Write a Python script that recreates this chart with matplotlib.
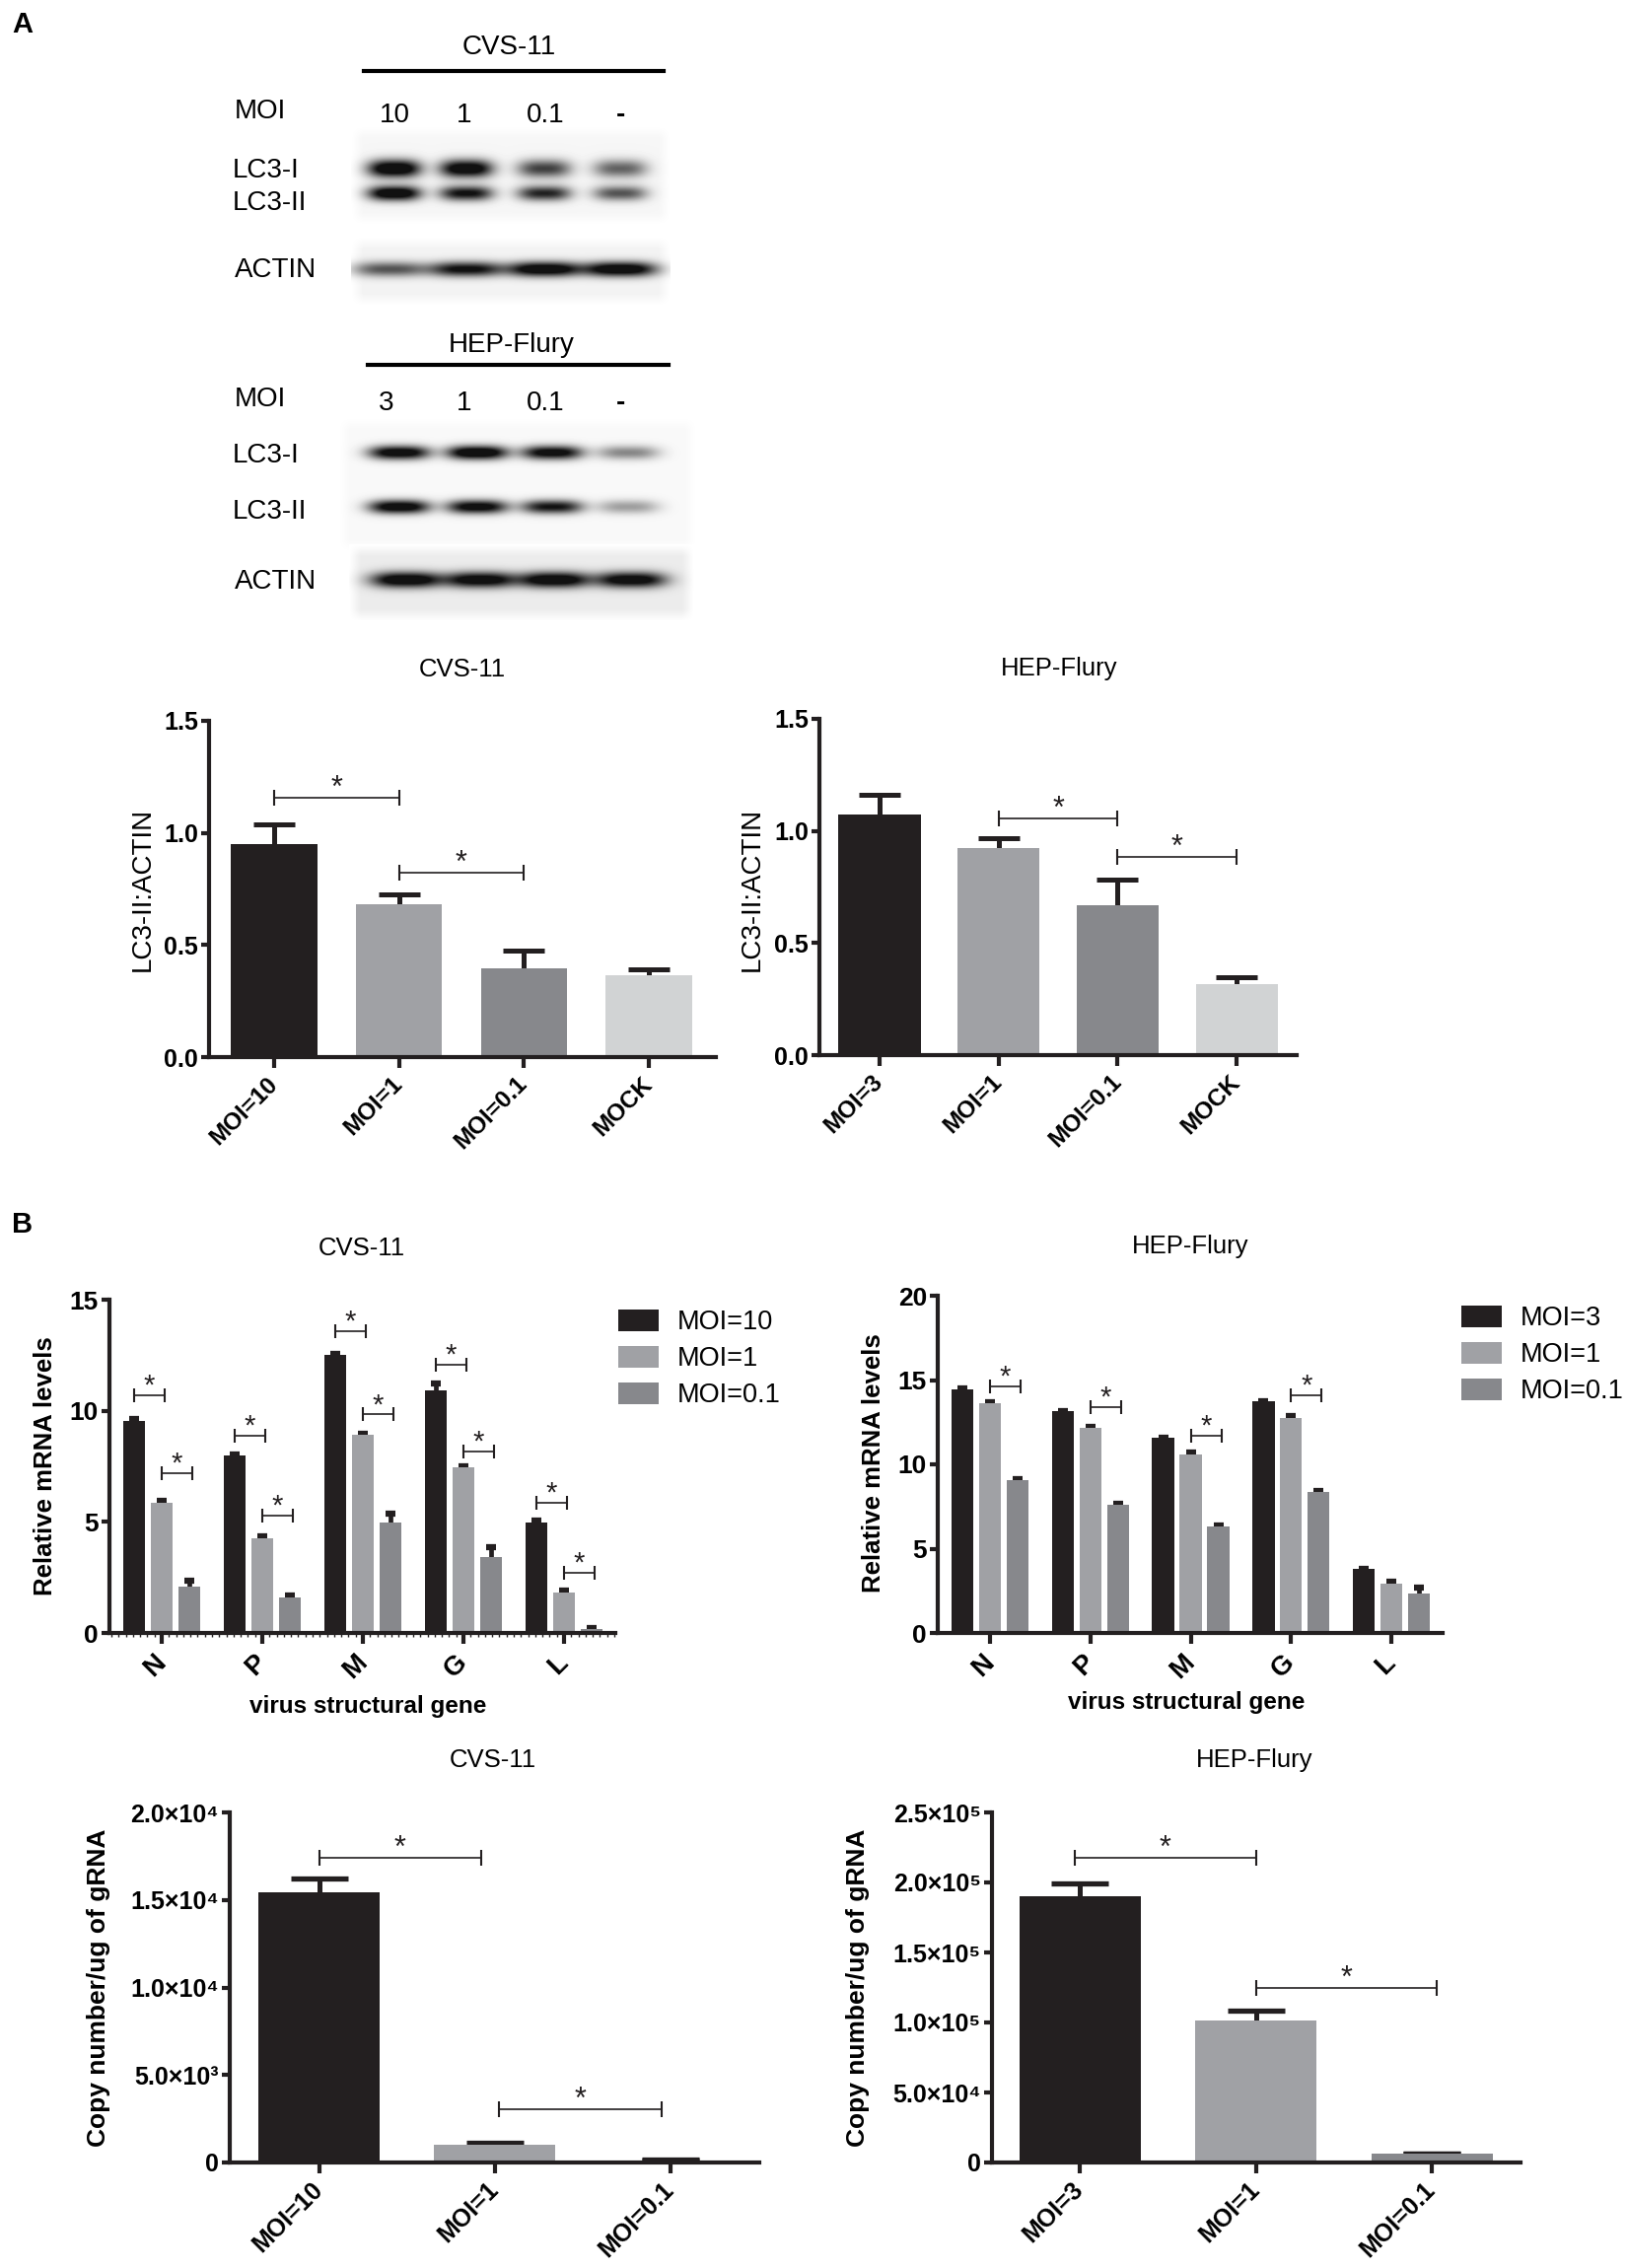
import numpy as np
import matplotlib.pyplot as plt
from matplotlib.ticker import FixedLocator, MultipleLocator, FuncFormatter
from matplotlib.transforms import ScaledTranslation

plt.rcParams['font.family'] = ['Liberation Sans', 'DejaVu Sans']

W, H = 1650, 2300
DARK = '#231f20'
LIGHT = '#a0a1a5'
MID = '#87888c'
PALE = '#d1d3d4'

# ---------------- data ----------------
cvs_lanes = ['10', '1', '0.1', '-']
hep_lanes = ['3', '1', '0.1', '-']
# band darkness per lane (0..1), read by eye from the blots
cvs_lc3i = [1.0, 0.95, 0.62, 0.5]
cvs_lc3ii = [0.98, 0.8, 0.72, 0.55]
cvs_actin = [0.55, 0.82, 0.97, 0.97]
hep_lc3i = [0.92, 1.0, 0.88, 0.38]
hep_lc3ii = [0.92, 0.88, 0.78, 0.3]
hep_actin = [0.97, 0.93, 0.97, 0.92]

a_cvs_groups = ['MOI=10', 'MOI=1', 'MOI=0.1', 'MOCK']
a_cvs_mean = [0.952, 0.683, 0.398, 0.365]
a_cvs_err = [0.084, 0.045, 0.078, 0.027]
a_hep_groups = ['MOI=3', 'MOI=1', 'MOI=0.1', 'MOCK']
a_hep_mean = [1.074, 0.924, 0.669, 0.318]
a_hep_err = [0.086, 0.042, 0.114, 0.030]

genes = ['N', 'P', 'M', 'G', 'L']
b_cvs_series = ['MOI=10', 'MOI=1', 'MOI=0.1']
b_cvs_moi10 = [9.56, 7.98, 12.53, 10.90, 4.98]
b_cvs_moi10_err = [0.05, 0.04, 0.05, 0.35, 0.06]
b_cvs_moi1 = [5.85, 4.28, 8.91, 7.44, 1.82]
b_cvs_moi1_err = [0.08, 0.06, 0.06, 0.06, 0.11]
b_cvs_moi01 = [2.07, 1.58, 4.96, 3.40, 0.16]
b_cvs_moi01_err = [0.28, 0.11, 0.41, 0.46, 0.06]
b_cvs_sig_a = [10.70, 8.88, 13.59, 12.09, 5.88]   # MOI=10 vs MOI=1
b_cvs_sig_b = [7.19, 5.29, 9.83, 8.17, 2.69]      # MOI=1 vs MOI=0.1

b_hep_series = ['MOI=3', 'MOI=1', 'MOI=0.1']
b_hep_moi3 = [14.45, 13.13, 11.55, 13.72, 3.78]
b_hep_moi3_err = [0.04, 0.04, 0.05, 0.05, 0.05]
b_hep_moi1 = [13.61, 12.14, 10.59, 12.77, 2.94]
b_hep_moi1_err = [0.10, 0.08, 0.10, 0.08, 0.08]
b_hep_moi01 = [9.07, 7.60, 6.30, 8.36, 2.35]
b_hep_moi01_err = [0.08, 0.08, 0.08, 0.08, 0.32]
b_hep_sig = [14.60, 13.40, 11.72, 14.07]          # MOI=1 vs MOI=0.1, N..G

c_cvs_groups = ['MOI=10', 'MOI=1', 'MOI=0.1']
c_cvs_mean = [15450, 1000, 140]
c_cvs_err = [790, 150, 40]
c_hep_groups = ['MOI=3', 'MOI=1', 'MOI=0.1']
c_hep_mean = [190400, 101500, 6060]
c_hep_err = [8800, 7100, 0]

fig = plt.figure(figsize=(W / 100, H / 100), dpi=100)

# overlay in pixel units for blots and free text
ov = fig.add_axes([0, 0, 1, 1])
ov.set_xlim(0, W)
ov.set_ylim(H, 0)
ov.axis('off')


def blot(x0, x1, y0, y1, lane_x, rows, band_w, bg):
    xs = np.arange(x0, x1) + 0.5
    ys = np.arange(y0, y1) + 0.5
    X, Y = np.meshgrid(xs, ys)
    dark = np.zeros_like(X)
    for yc, amps, sy in rows:
        for xc, a in zip(lane_x, amps):
            dark += a * np.exp(-np.abs((X - xc) / (band_w / 2)) ** 3) * np.exp(-((Y - yc) / sy) ** 2)
    # soft edge of the membrane
    ex = np.clip(np.minimum(X - x0, x1 - X) / 12, 0, 1)
    ey = np.clip(np.minimum(Y - y0, y1 - Y) / 12, 0, 1)
    base = 1 - (1 - bg) * ex * ey
    img = base - np.clip(dark * 1.3, 0, 1) * (base - 0.07)
    ov.imshow(img, cmap='gray', vmin=0, vmax=1, extent=(x0, x1, y1, y0),
              aspect='auto', interpolation='bilinear')


cvs_x = [400, 473, 552, 629]
hep_x = [405, 484, 560, 637]
blot(356, 680, 128, 228, cvs_x, [(171, cvs_lc3i, 9), (196, cvs_lc3ii, 7.5)], 54, 0.965)
blot(356, 680, 240, 310, [396, 473, 552, 629], [(273, cvs_actin, 7.5)], 74, 0.955)
blot(343, 707, 423, 560, hep_x, [(459, hep_lc3i, 7), (514, hep_lc3ii, 7)], 62, 0.975)
blot(354, 704, 552, 630, [412, 487, 562, 640], [(588, hep_actin, 8)], 72, 0.925)

blot_fs = 20
ov.text(516, 48, 'CVS-11', fontsize=blot_fs, ha='center', va='center')
ov.plot([369, 673], [72, 72], color='black', lw=3)
ov.text(238, 113, 'MOI', fontsize=blot_fs, va='center')
for lx, lab in zip([400, 471, 553, 629], cvs_lanes):
    ov.text(lx, 117, lab, fontsize=blot_fs, ha='center', va='center',
            fontweight='bold' if lab == '-' else 'normal')
ov.text(236, 173, 'LC3-I', fontsize=blot_fs, va='center')
ov.text(236, 206, 'LC3-II', fontsize=blot_fs, va='center')
ov.text(238, 274, 'ACTIN', fontsize=blot_fs, va='center')

ov.text(519, 350, 'HEP-Flury', fontsize=blot_fs, ha='center', va='center')
ov.plot([373, 678], [370, 370], color='black', lw=3)
ov.text(238, 405, 'MOI', fontsize=blot_fs, va='center')
for lx, lab in zip([392, 471, 553, 629], hep_lanes):
    ov.text(lx, 409, lab, fontsize=blot_fs, ha='center', va='center',
            fontweight='bold' if lab == '-' else 'normal')
ov.text(236, 462, 'LC3-I', fontsize=blot_fs, va='center')
ov.text(236, 519, 'LC3-II', fontsize=blot_fs, va='center')
ov.text(238, 590, 'ACTIN', fontsize=blot_fs, va='center')

ov.text(12, 25, 'A', fontsize=21, fontweight='bold', va='center')
ov.text(12, 1242, 'B', fontsize=21, fontweight='bold', va='center')

# chart titles and axis titles
title_fs = 18.5
ov.text(469, 679, 'CVS-11', fontsize=title_fs, ha='center', va='center')
ov.text(1074, 678, 'HEP-Flury', fontsize=title_fs, ha='center', va='center')
ov.text(367, 1266, 'CVS-11', fontsize=title_fs, ha='center', va='center')
ov.text(1207, 1264, 'HEP-Flury', fontsize=title_fs, ha='center', va='center')
ov.text(500, 1785, 'CVS-11', fontsize=title_fs, ha='center', va='center')
ov.text(1272, 1785, 'HEP-Flury', fontsize=title_fs, ha='center', va='center')

ov.text(145, 902, 'LC3-II:ACTIN', fontsize=20, rotation=90, ha='center', va='center')
ov.text(763, 902, 'LC3-II:ACTIN', fontsize=20, rotation=90, ha='center', va='center')
ov.text(46, 1487, 'Relative mRNA levels', fontsize=18.5, fontweight='bold',
        rotation=90, ha='center', va='center')
ov.text(886, 1484, 'Relative mRNA levels', fontsize=18.5, fontweight='bold',
        rotation=90, ha='center', va='center')
ov.text(373, 1730, 'virus structural gene', fontsize=17.5, fontweight='bold', ha='center', va='center')
ov.text(1203, 1726, 'virus structural gene', fontsize=17.5, fontweight='bold', ha='center', va='center')
ov.text(100, 2016, 'Copy number/ug of gRNA', fontsize=19, fontweight='bold',
        rotation=90, ha='center', va='center')
ov.text(870, 2016, 'Copy number/ug of gRNA', fontsize=19, fontweight='bold',
        rotation=90, ha='center', va='center')


def make_ax(left, top, right, bottom):
    ax = fig.add_axes([left / W, 1 - bottom / H, (right - left) / W, (bottom - top) / H])
    ax.patch.set_alpha(0)
    for s in ['top', 'right']:
        ax.spines[s].set_visible(False)
    for s in ['left', 'bottom']:
        ax.spines[s].set_linewidth(3)
        ax.spines[s].set_color(DARK)
        ax.spines[s].set_zorder(4)
    ax.tick_params(direction='out', width=3, color=DARK)
    ax.tick_params(axis='y', length=6, labelsize=18, pad=2)
    ax.tick_params(axis='x', length=8)
    return ax


def bracket(ax, x1, x2, y, ms=11, fs=21):
    ax.plot([x1, x2], [y, y], color=DARK, lw=1.2, marker='|', markersize=ms,
            mew=1.5, clip_on=False)
    ax.annotate('*', xy=((x1 + x2) / 2, y), xytext=(0, 1), textcoords='offset points',
                ha='center', va='baseline', fontsize=fs, color=DARK)


def rot_labels(ax, labels, fs, dx=3):
    ax.set_xticklabels(labels, rotation=45, ha='right', va='center', rotation_mode='anchor',
                       fontsize=fs, fontweight='bold')
    off = ScaledTranslation(dx / 100, 0, fig.dpi_scale_trans)
    for lbl in ax.get_xticklabels():
        lbl.set_transform(lbl.get_transform() + off)


def bold_y(ax):
    for lbl in ax.get_yticklabels():
        lbl.set_fontweight('bold')


def err_up(ax, x, mean, err, lw, cap, ct):
    # symmetric bars drawn behind the columns, so only the upper half shows
    ax.errorbar(x, mean, yerr=err, fmt='none', ecolor=DARK,
                elinewidth=lw, capsize=cap, capthick=ct, zorder=1)


# ---------------- panel A bar charts ----------------
a_colors = [DARK, LIGHT, MID, PALE]
for rect, xl, groups, mean, err, pairs in [
        ((212, 731, 726, 1072), (-0.52, 3.536), a_cvs_groups, a_cvs_mean, a_cvs_err,
         [(0, 1, 1.155), (1, 2, 0.823)]),
        ((831, 729, 1315, 1070), (-0.505, 3.504), a_hep_groups, a_hep_mean, a_hep_err,
         [(1, 2, 1.056), (2, 3, 0.882)])]:
    ax = make_ax(*rect)
    x = np.arange(len(groups))
    ax.bar(x, mean, width=0.69, color=a_colors, zorder=2)
    err_up(ax, x, mean, err, 3.6, 15, 3.6)
    ax.set_xlim(*xl)
    ax.set_ylim(0, 1.5)
    ax.set_yticks([0, 0.5, 1.0, 1.5])
    ax.set_yticklabels(['0.0', '0.5', '1.0', '1.5'])
    bold_y(ax)
    ax.set_xticks(x)
    rot_labels(ax, groups, 17.5)
    ax.tick_params(axis='x', pad=9)
    for i, j, y in pairs:
        bracket(ax, i, j, y, ms=11, fs=22)

# ---------------- panel B mRNA charts ----------------
b_colors = [DARK, LIGHT, MID]
offs = [-0.275, 0.0, 0.275]

ax = make_ax(111, 1318, 624, 1656)
x = np.arange(len(genes))
for k, (vals, errs) in enumerate([(b_cvs_moi10, b_cvs_moi10_err), (b_cvs_moi1, b_cvs_moi1_err),
                                  (b_cvs_moi01, b_cvs_moi01_err)]):
    ax.bar(x + offs[k], vals, width=0.22, color=b_colors[k], label=b_cvs_series[k], zorder=2)
    err_up(ax, x + offs[k], vals, errs, 3.4, 3.3, 4.5)
for g in range(len(genes)):
    bracket(ax, g + offs[0], g + offs[1] + 0.03, b_cvs_sig_a[g], ms=10, fs=21)
    bracket(ax, g + offs[1], g + offs[2] + 0.03, b_cvs_sig_b[g], ms=10, fs=21)
ax.set_xlim(-0.52, 4.51)
ax.set_ylim(0, 15)
ax.set_yticks([0, 5, 10, 15])
ax.tick_params(axis='y', labelsize=19)
bold_y(ax)
ax.set_xticks(x)
ax.xaxis.set_minor_locator(MultipleLocator(1 / 14))
ax.tick_params(axis='x', which='minor', length=3, width=1, color=DARK)
rot_labels(ax, genes, 19.5, dx=2)
ax.tick_params(axis='x', pad=11)
ax.legend(loc='upper left', bbox_to_anchor=(627 / W, 1 - 1328 / H), bbox_transform=fig.transFigure,
          frameon=False, fontsize=19.5, handlelength=1.5, handleheight=0.85, labelspacing=0.4,
          handletextpad=0.7, borderpad=0, borderaxespad=0)

ax = make_ax(951, 1314, 1463, 1656)
for k, (vals, errs) in enumerate([(b_hep_moi3, b_hep_moi3_err), (b_hep_moi1, b_hep_moi1_err),
                                  (b_hep_moi01, b_hep_moi01_err)]):
    ax.bar(x + offs[k], vals, width=0.22, color=b_colors[k], label=b_hep_series[k], zorder=2)
    err_up(ax, x + offs[k], vals, errs, 3.4, 3.3, 4.5)
for g in range(len(b_hep_sig)):
    bracket(ax, g + offs[1], g + offs[2] + 0.03, b_hep_sig[g], ms=10, fs=21)
ax.set_xlim(-0.52, 4.51)
ax.set_ylim(0, 20)
ax.set_yticks([0, 5, 10, 15, 20])
ax.tick_params(axis='y', labelsize=19)
bold_y(ax)
ax.set_xticks(x)
rot_labels(ax, genes, 19.5, dx=2)
ax.tick_params(axis='x', pad=11)
ax.legend(loc='upper left', bbox_to_anchor=(1482 / W, 1 - 1324 / H), bbox_transform=fig.transFigure,
          frameon=False, fontsize=19.5, handlelength=1.5, handleheight=0.85, labelspacing=0.4,
          handletextpad=0.7, borderpad=0, borderaxespad=0)

# ---------------- panel B copy number charts ----------------
sup = str.maketrans('0123456789', '⁰¹²³⁴⁵⁶⁷⁸⁹')


def sci(v, pos):
    if v == 0:
        return '0'
    e = int(np.floor(np.log10(v)))
    return '%.1f×10%s' % (v / 10 ** e, str(e).translate(sup))


c_colors = [DARK, LIGHT, MID]
for rect, xl, groups, mean, err, ymax, yt, brs in [
        ((233, 1838, 770, 2193), (-0.51, 2.505), c_cvs_groups, c_cvs_mean, c_cvs_err, 2e4,
         [0, 5e3, 1e4, 1.5e4, 2e4], [(0.0, 0.92, 17414), (1.02, 1.95, 3030)]),
        ((1006, 1838, 1542, 2193), (-0.5, 2.504), c_hep_groups, c_hep_mean, c_hep_err, 2.5e5,
         [0, 5e4, 1e5, 1.5e5, 2e5, 2.5e5], [(-0.03, 1.0, 217700), (1.0, 2.03, 124700)])]:
    ax = make_ax(*rect)
    x = np.arange(len(groups))
    ax.bar(x, mean, width=0.69, color=c_colors, zorder=2)
    err_up(ax, x, mean, err, 3.6, 21, 3.8)
    ax.set_xlim(*xl)
    ax.set_ylim(0, ymax)
    ax.yaxis.set_major_locator(FixedLocator(yt))
    ax.yaxis.set_major_formatter(FuncFormatter(sci))
    ax.tick_params(axis='y', labelsize=18)
    bold_y(ax)
    ax.set_xticks(x)
    rot_labels(ax, groups, 18)
    ax.tick_params(axis='x', pad=9)
    for x1, x2, y in brs:
        bracket(ax, x1, x2, y, ms=11, fs=22)

fig.savefig('out.png', dpi=100)
